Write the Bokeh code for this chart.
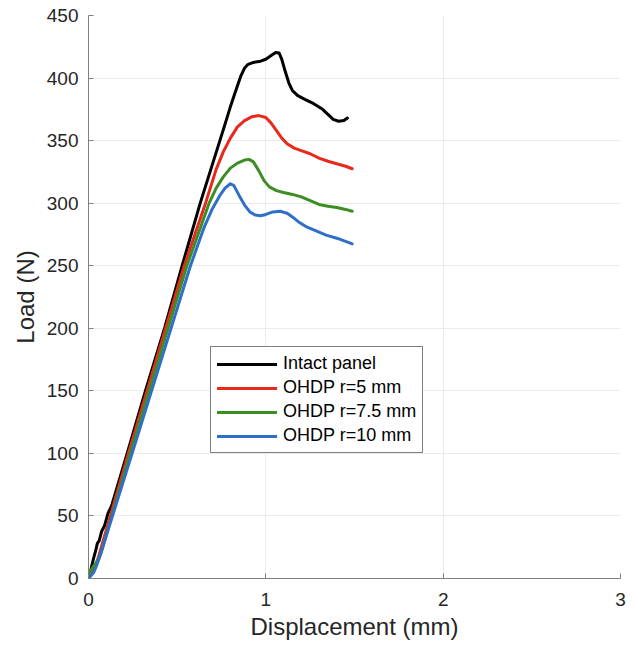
from bokeh.plotting import figure
from bokeh.models import Range1d, Legend, LegendItem, FixedTicker
from bokeh.embed import file_html
from bokeh.resources import INLINE

# Intact panel
intact_x = [0, 0.01, 0.025, 0.04, 0.05, 0.06, 0.075, 0.09, 0.11, 0.13, 0.218, 0.321, 0.429, 0.528,
            0.63, 0.763, 0.80, 0.838, 0.86, 0.88, 0.90, 0.93, 0.97, 1.0, 1.03, 1.055, 1.075, 1.09,
            1.11, 1.13, 1.15, 1.18, 1.22, 1.27, 1.32, 1.35, 1.38, 1.41, 1.44, 1.46]
intact_y = [0, 5, 14, 22, 28, 30, 38, 42, 52, 58, 100, 150, 200, 250,
            300, 360, 377, 393, 402, 408, 411, 412.5, 413.5, 415, 418, 420.5, 420, 415,
            405, 396, 390, 386, 383, 379.5, 375, 371, 367, 365.5, 366, 368]

# OHDP r=5 mm
r5_x = [0, 0.02, 0.04, 0.06, 0.225, 0.54, 0.66, 0.72, 0.76, 0.80, 0.84, 0.88, 0.92, 0.96, 1.0,
        1.03, 1.06, 1.09, 1.12, 1.16, 1.2, 1.25, 1.3, 1.35, 1.4, 1.45, 1.487]
r5_y = [0, 5, 10, 19, 100, 250, 300, 327, 341, 352, 361, 366, 369, 370, 368.5,
        364, 358, 352, 347.5, 344, 342, 339.5, 336, 333.5, 331.5, 329.5, 327.5]

# OHDP r=7.5 mm
r75_x = [0, 0.01, 0.03, 0.05, 0.07, 0.235, 0.555, 0.68, 0.72, 0.76, 0.80, 0.84, 0.88, 0.905, 0.93,
         0.96, 0.99, 1.02, 1.06, 1.10, 1.15, 1.2, 1.25, 1.3, 1.35, 1.4, 1.45, 1.487]
r75_y = [0, 6, 10, 14, 20, 100, 250, 300, 312, 321, 328, 332, 334.5, 335, 333,
         326, 318, 313, 310, 308.5, 307, 305, 302, 299, 297.5, 296.5, 295, 293.5]

# OHDP r=10 mm
r10_x = [0, 0.03, 0.045, 0.06, 0.246, 0.575, 0.65, 0.70, 0.74, 0.77, 0.80, 0.82, 0.85, 0.88, 0.91,
         0.94, 0.97, 1.0, 1.04, 1.08, 1.12, 1.15, 1.19, 1.23, 1.28, 1.34, 1.4, 1.45, 1.487]
r10_y = [0, 5, 10, 16, 100, 250, 280, 296, 306, 312, 315.5, 314, 306, 298.5, 293,
         290.5, 290, 291, 293, 293.5, 292, 289, 284.5, 281, 278, 274.5, 272, 269.5, 267.5]

labels = ["Intact panel", "OHDP r=5 mm", "OHDP r=7.5 mm", "OHDP r=10 mm"]
colors = ["#000000", "#e8291c", "#3a8e22", "#2f6fc8"]

x_ticks = [0, 1, 2, 3]
y_ticks = [0, 50, 100, 150, 200, 250, 300, 350, 400, 450]

p = figure(width=632, height=642, output_backend="svg", toolbar_location=None,
           x_range=Range1d(0, 3), y_range=Range1d(0, 450),
           min_border_left=88, min_border_right=12, min_border_top=15, min_border_bottom=62)
p.outline_line_color = None
p.background_fill_color = "white"

series = [(intact_x, intact_y), (r5_x, r5_y), (r75_x, r75_y), (r10_x, r10_y)]
renderers = []
for (xs, ys), c in zip(series, colors):
    r = p.line(xs, ys, line_color=c, line_width=3, line_join="round", line_cap="round")
    renderers.append(r)

for ax in (p.xaxis, p.yaxis):
    ax.axis_line_color = "#808080"
    ax.major_tick_line_color = "#808080"
    ax.minor_tick_line_color = None
    ax.major_tick_in = 5
    ax.major_tick_out = 0
    ax.major_label_text_font = "Liberation Sans"
    ax.major_label_text_font_size = "19px"
    ax.major_label_text_color = "#262626"
    ax.axis_label_text_font = "Liberation Sans"
    ax.axis_label_text_font_size = "24px"
    ax.axis_label_text_font_style = "normal"
    ax.axis_label_text_color = "#262626"

p.xaxis.ticker = FixedTicker(ticks=x_ticks)
p.yaxis.ticker = FixedTicker(ticks=y_ticks)
p.xaxis.axis_label = "Displacement (mm)"
p.yaxis.axis_label = "Load (N)"
p.xaxis.major_label_standoff = 14
p.yaxis.major_label_standoff = 10
p.xaxis.axis_label_standoff = 4
p.yaxis.axis_label_standoff = 5

p.xgrid.grid_line_color = "#ebebeb"
p.ygrid.grid_line_color = "#ebebeb"

legend = Legend(items=[LegendItem(label=l, renderers=[r]) for l, r in zip(labels, renderers)],
                location=(122, 125), glyph_width=60, glyph_height=20,
                label_text_font="Liberation Sans", label_text_font_size="18px",
                label_text_color="#000000", spacing=3, padding=6, margin=0,
                border_line_color="#000000", border_line_width=1,
                background_fill_alpha=1.0, label_standoff=6)
p.add_layout(legend, "center")

open("out.html", "w").write(file_html(p, INLINE))
